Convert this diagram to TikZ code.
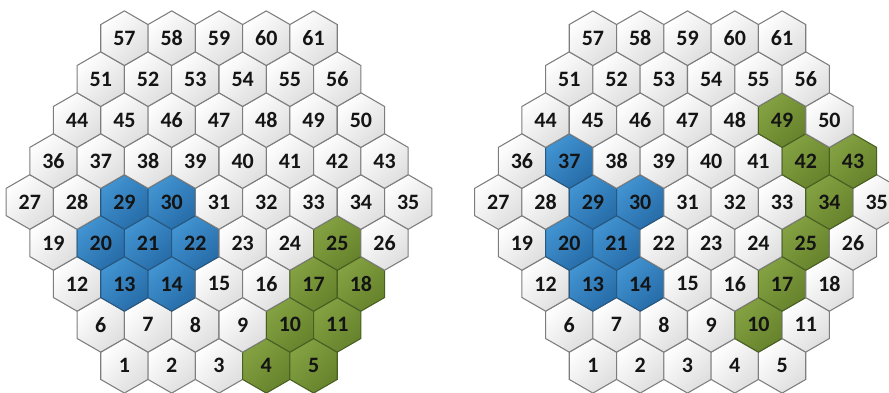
\documentclass[tikz,border=0pt]{standalone}
\usepackage{fontspec}
\setmainfont{Carlito}
\usetikzlibrary{shapes.geometric}
\definecolor{hexblue}{RGB}{66,148,210}
\definecolor{hexbluedk}{RGB}{38,108,168}
\definecolor{hexblueln}{RGB}{40,88,128}
\definecolor{hexgreen}{RGB}{132,162,66}
\definecolor{hexgreendk}{RGB}{102,130,44}
\definecolor{hexgreenln}{RGB}{72,96,34}
\definecolor{hexline}{RGB}{125,125,125}
\definecolor{hexgray}{RGB}{222,222,222}
\definecolor{numtxt}{RGB}{20,20,20}
\def\hw{0.946}
\def\hv{0.819}
\tikzset{
  hexw/.style={regular polygon, regular polygon sides=6, shape border rotate=30,
               minimum size=1.092cm, inner sep=0pt, draw=hexline, line width=0.6pt,
               top color=white, bottom color=hexgray, shading angle=45,
               font=\fontsize{12.5}{14}\selectfont\bfseries, text=numtxt},
  hexb/.style={draw=hexblueln, top color=hexblue, bottom color=hexbluedk, shading angle=45},
  hexg/.style={draw=hexgreenln, top color=hexgreen, bottom color=hexgreendk, shading angle=45},
  mkblue/.style={#1/.style=hexb},
  mkgreen/.style={#1/.style=hexg},
  % left grid
  mkblue/.list={L29,L30,L20,L21,L22,L13,L14},
  mkgreen/.list={L25,L17,L18,L10,L11,L4,L5},
  % right grid
  mkblue/.list={R37,R29,R30,R20,R21,R13,R14},
  mkgreen/.list={R49,R42,R43,R34,R25,R17,R10},
}
% #1 name prefix, #2 x of the middle hex
\newcommand{\hexgrid}[2]{%
  \foreach \r/\n/\s in {0/5/1,1/6/6,2/7/12,3/8/19,4/9/27,5/8/36,6/7/44,7/6/51,8/5/57}{
    \foreach \i in {1,...,\n}{
      \pgfmathtruncatemacro{\k}{\s+\i-1}
      \pgfmathsetmacro{\hx}{#2+(\i-(\n+1)/2)*\hw}
      \pgfmathsetmacro{\hy}{3.82+(\r-4)*\hv}
      \node[hexw, #1\k/.try] (#1\k) at (\hx,\hy) {\k};
    }
  }%
}

\begin{document}
\begin{tikzpicture}
  \useasboundingbox (0,0) rectangle (17.78,7.86);
  \clip (0,0) rectangle (17.78,7.86);
  \hexgrid{L}{4.38}
  \hexgrid{R}{13.75}
\end{tikzpicture}
\end{document}
